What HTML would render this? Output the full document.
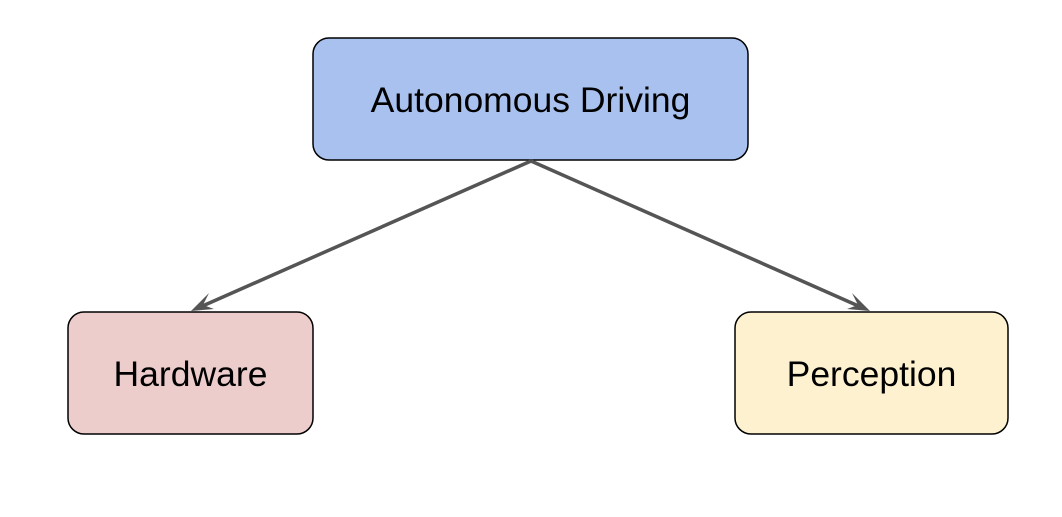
<!DOCTYPE html>
<html><head><style>body{margin:0;background:#fff}</style></head><body>
<svg width="1062" height="512" xmlns="http://www.w3.org/2000/svg" font-family="Liberation Sans, Arial, sans-serif">
<rect x="313" y="38" width="435" height="122" rx="16" fill="#a9c1ef" stroke="#000" stroke-width="1.5"/>
<text x="530.5" y="112" font-size="35.5" text-anchor="middle">Autonomous Driving</text>
<rect x="68" y="312" width="245" height="122" rx="16" fill="#edcdcc" stroke="#000" stroke-width="1.5"/>
<text x="190.5" y="386" font-size="35.5" text-anchor="middle">Hardware</text>
<rect x="735" y="312" width="273" height="122" rx="16" fill="#fdf1d0" stroke="#000" stroke-width="1.5"/>
<text x="871.5" y="386" font-size="35.5" text-anchor="middle">Perception</text>
<g stroke="#555" stroke-width="3.5" fill="none">
<line x1="531" y1="161" x2="198" y2="308"/>
<line x1="531" y1="161" x2="863" y2="308"/>
</g>
<g fill="#555">
<path d="M191,311 L209,293 L203,305 L214,309 Z"/>
<path d="M870,311 L852,293 L858,305 L847,309 Z"/>
</g>
</svg>
</body></html>
